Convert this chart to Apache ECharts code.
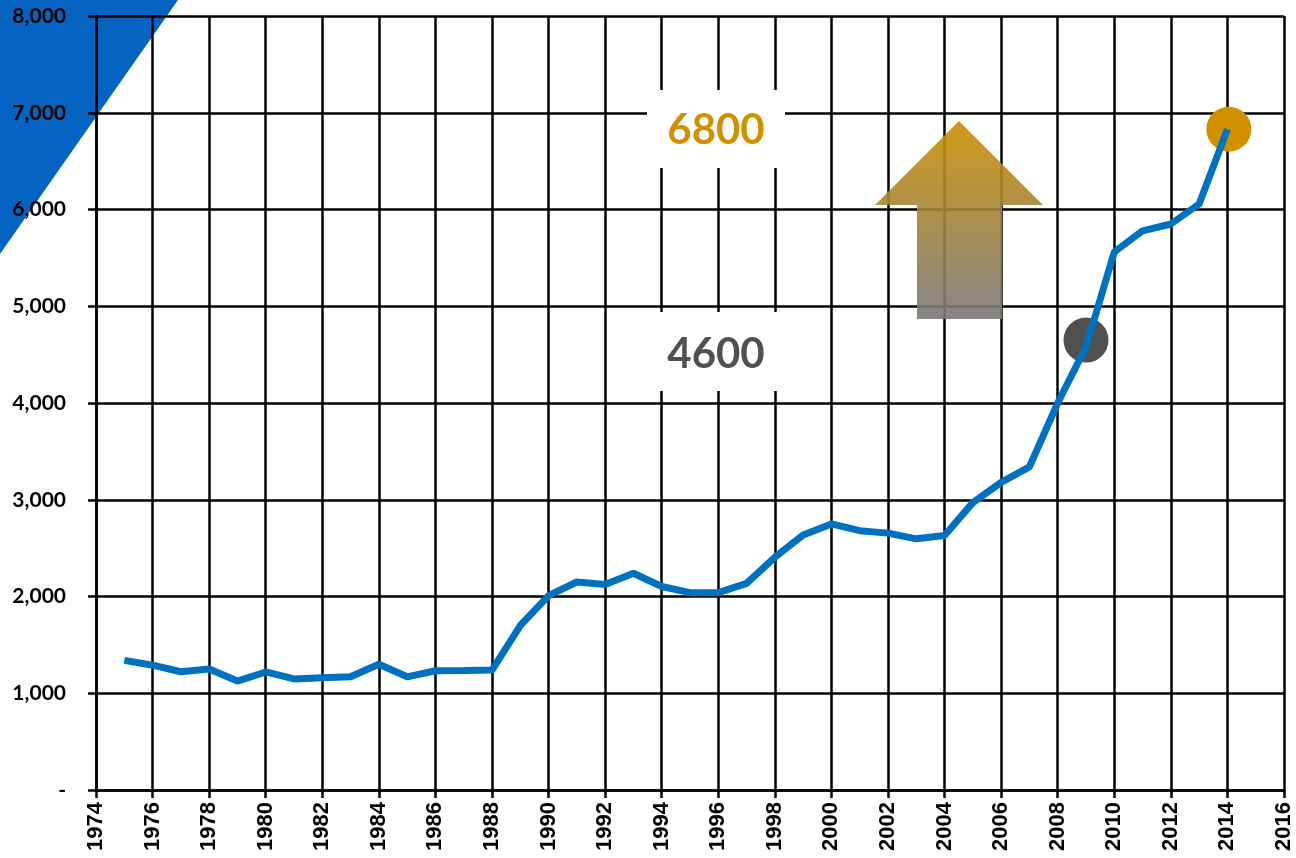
<!DOCTYPE html>
<html>
<head>
<meta charset="utf-8">
<script src="https://cdn.jsdelivr.net/npm/echarts@6/dist/echarts.min.js"></script>
<style>
  html, body { margin: 0; padding: 0; background: #fff; }
  #chart { width: 1296px; height: 858px; }
</style>
</head>
<body>
<div id="chart"></div>
<script>
// years and values
const years = [1975, 1976, 1977, 1978, 1979, 1980, 1981, 1982, 1983, 1984,
  1985, 1986, 1987, 1988, 1989, 1990, 1991, 1992, 1993, 1994,
  1995, 1996, 1997, 1998, 1999, 2000, 2001, 2002, 2003, 2004,
  2005, 2006, 2007, 2008, 2009, 2010, 2011, 2012, 2013, 2014]
const values = [1340, 1290, 1222, 1250, 1126, 1220, 1148, 1160, 1170, 1300,
  1170, 1233, 1235, 1240, 1700, 2010, 2150, 2125, 2240, 2103,
  2040, 2040, 2135, 2405, 2636, 2750, 2680, 2655, 2596, 2630,
  2970, 3180, 3340, 4000, 4580, 5560, 5780, 5850, 6057, 6830]
const greyDot = [2009, 4650]
const goldDot = [2014.05, 6830]
const labelHigh = '6800'
const labelLow = '4600'

const chartDom = document.getElementById('chart')
const myChart = echarts.init(chartDom)

const labelFont = 'Lato, "Liberation Sans", sans-serif'

const option = {
  animation: false,
  grid: { left: 96, right: 12, top: 16, bottom: 68 },
  xAxis: {
    type: 'value',
    min: 1974,
    max: 2016,
    interval: 2,
    axisLine: { lineStyle: { color: '#000', width: 2.5 } },
    axisTick: { show: true, length: 8, lineStyle: { color: '#000', width: 2.5 } },
    axisLabel: {
      rotate: 90,
      color: '#000',
      fontFamily: '"Liberation Sans", Arial, sans-serif',
      fontWeight: 'bold',
      fontSize: 22,
      margin: 12,
      formatter: v => String(v)
    },
    splitLine: { show: true, lineStyle: { color: '#000', width: 2.5 } }
  },
  yAxis: {
    type: 'value',
    min: 0,
    max: 8000,
    interval: 1000,
    axisLine: { show: true, lineStyle: { color: '#000', width: 2.5 } },
    axisTick: { show: true, length: 8, lineStyle: { color: '#000', width: 2.5 } },
    axisLabel: {
      color: '#000',
      fontFamily: labelFont,
      fontWeight: 'bold',
      fontSize: 21,
      margin: 30,
      formatter: v => v === 0 ? '-' : v.toLocaleString('en-US')
    },
    splitLine: { show: true, lineStyle: { color: '#000', width: 2.5 } }
  },
  graphic: [
    {
      type: 'polygon',
      z: -10,
      shape: { points: [[0, 0], [178, 0], [0, 254]] },
      style: { fill: '#0563C1' }
    },
    {
      type: 'polygon',
      z: 5,
      shape: {
        points: [[959, 121], [1043, 205], [1002, 205], [1002, 319],
          [917, 319], [917, 205], [875, 205]]
      },
      style: {
        opacity: 0.9,
        fill: new echarts.graphic.LinearGradient(0, 0, 0, 1, [
          { offset: 0, color: '#CC8E00' },
          { offset: 1, color: '#7A7A7A' }
        ])
      }
    },
    {
      type: 'rect',
      z: 10,
      shape: { x: 647, y: 90, width: 138, height: 78 },
      style: { fill: '#fff' }
    },
    {
      type: 'rect',
      z: 10,
      shape: { x: 647, y: 312, width: 138, height: 79 },
      style: { fill: '#fff' }
    },
    {
      type: 'text',
      z: 11,
      x: 716,
      y: 130,
      style: {
        text: labelHigh,
        fill: '#D09000',
        font: 'bold 42px ' + labelFont,
        align: 'center',
        verticalAlign: 'middle'
      }
    },
    {
      type: 'text',
      z: 11,
      x: 716,
      y: 354,
      style: {
        text: labelLow,
        fill: '#505050',
        font: 'bold 42px ' + labelFont,
        align: 'center',
        verticalAlign: 'middle'
      }
    }
  ],
  series: [
    {
      type: 'scatter',
      z: 1,
      symbolSize: 45,
      data: [greyDot],
      itemStyle: { color: '#505050', opacity: 1 }
    },
    {
      type: 'scatter',
      z: 1,
      symbolSize: 45,
      data: [goldDot],
      itemStyle: { color: '#D09000', opacity: 1 }
    },
    {
      type: 'line',
      z: 3,
      data: years.map((y, i) => [y, values[i]]),
      showSymbol: false,
      lineStyle: { color: '#0070C0', width: 7 }
    }
  ]
}
myChart && myChart.setOption(option)
</script>
</body>
</html>
